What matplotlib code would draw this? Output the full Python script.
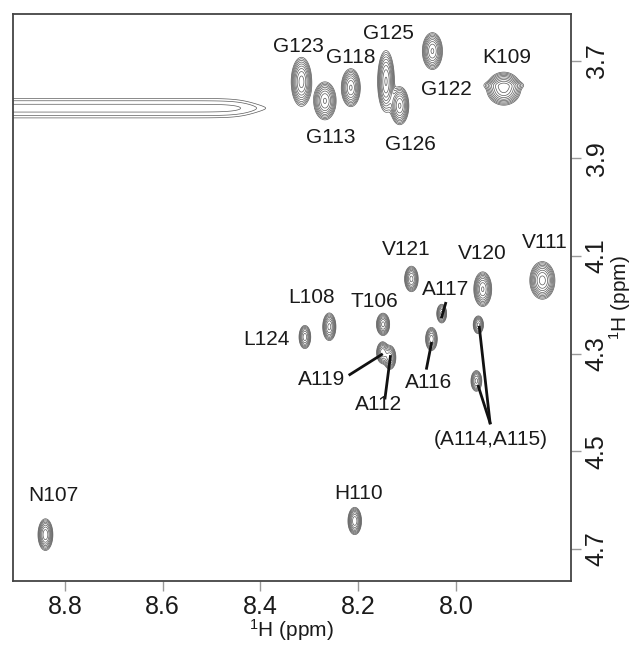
import numpy as np
import matplotlib
matplotlib.use("Agg")
import matplotlib.pyplot as plt

plt.rcParams['font.family'] = ['Liberation Sans', 'DejaVu Sans']
plt.rcParams['mathtext.fontset'] = 'custom'
plt.rcParams['mathtext.rm'] = 'Liberation Sans'

# ---- spectral data (ppm) ----
peak_names = ["T106", "N107", "L108", "K109", "K109b", "H110", "V111", "A112", "G113",
              "A114a", "A114b", "A116", "A117", "G118", "A119", "V120", "V121",
              "G122", "G123", "L124", "G125", "G126"]
peak_x = [8.149, 8.840, 8.259, 7.902, 7.902, 8.207, 7.823, 8.135, 8.268,
          7.954, 7.958, 8.050, 8.029, 8.215, 8.150, 7.945, 8.091,
          8.048, 8.316, 8.309, 8.143, 8.115]
peak_y = [4.240, 4.671, 4.245, 3.757, 3.750, 4.643, 4.150, 4.308, 3.782,
          4.241, 4.356, 4.270, 4.218, 3.755, 4.298, 4.168, 4.147,
          3.680, 3.743, 4.266, 3.742, 3.792]
# line widths (ppm, gaussian sigma)
peak_sx = [0.0062, 0.0068, 0.0062, 0.0150, 0.0240, 0.0062, 0.0110, 0.0058, 0.0100,
           0.0052, 0.0055, 0.0058, 0.0050, 0.0085, 0.0058, 0.0080, 0.0064,
           0.0090, 0.0090, 0.0058, 0.0075, 0.0082]
peak_sy = [0.0105, 0.0145, 0.0130, 0.0145, 0.0048, 0.0125, 0.0165, 0.0115, 0.0170,
           0.0090, 0.0105, 0.0115, 0.0095, 0.0170, 0.0105, 0.0155, 0.0120,
           0.0165, 0.0215, 0.0115, 0.0275, 0.0170]
peak_amp = [0.7, 0.8, 0.7, 1.0, 0.18, 0.8, 1.0, 0.6, 0.9,
            0.5, 0.5, 0.55, 0.5, 0.9, 0.6, 0.9, 0.7,
            0.9, 1.0, 0.55, 0.9, 0.9]

# water / t1-noise streak
streak_y = 3.797
streak_end_x = 8.415
streak_amp = 0.14

# labels (text, x, y in ppm)
label_text = ["G123", "G118", "G125", "G122", "K109", "G113", "G126",
              "V121", "V120", "V111", "L108", "T106", "L124", "A117",
              "A119", "A112", "A116", "(A114,A115)", "H110", "N107"]
label_x = [8.323, 8.215, 8.137, 8.019, 7.896, 8.256, 8.093,
           8.102, 7.945, 7.818, 8.295, 8.166, 8.387, 8.022,
           8.275, 8.159, 8.055, 7.929, 8.200, 8.824]
label_y = [3.671, 3.694, 3.643, 3.759, 3.694, 3.858, 3.872,
           4.087, 4.095, 4.072, 4.186, 4.193, 4.272, 4.169,
           4.354, 4.405, 4.360, 4.477, 4.586, 4.591]

# leader lines (x0, y0, x1, y1)
leaders = [(8.217, 4.343, 8.152, 4.302),
           (8.145, 4.391, 8.134, 4.306),
           (8.060, 4.330, 8.050, 4.279),
           (8.021, 4.197, 8.029, 4.225),
           (7.930, 4.442, 7.952, 4.246),
           (7.930, 4.442, 7.954, 4.367)]

x_ticks = [8.8, 8.6, 8.4, 8.2, 8.0]
y_ticks = [3.7, 3.9, 4.1, 4.3, 4.5, 4.7]
x_range = (8.907, 7.765)
y_range = (4.766, 3.604)

# ---- build spectrum ----
xs = np.linspace(7.765, 8.907, 1000)
ys = np.linspace(3.604, 4.766, 1000)
X, Y = np.meshgrid(xs, ys)
Z = np.zeros_like(X)
for px, py, sx, sy, a in zip(peak_x, peak_y, peak_sx, peak_sy, peak_amp):
    Z += a * np.exp(-0.5 * (((X - px) / sx) ** 2 + ((Y - py) / sy) ** 2))
ridge = 1.0 / (1.0 + np.exp(-(X - streak_end_x) / 0.02))
sig = 0.016 * np.sqrt(ridge) + 1e-4
Z += streak_amp * np.sqrt(ridge) * np.exp(-0.5 * ((Y - streak_y) / sig) ** 2)

levels = 0.065 * 1.38 ** np.arange(0, 9)

fig = plt.figure(figsize=(6.38, 6.48), dpi=100)
ax = fig.add_axes([0.0199, 0.1034, 0.8746, 0.875])
ax.contour(X, Y, Z, levels=levels, colors='#5a5a5a', linewidths=0.5)

for t, lx, ly in zip(label_text, label_x, label_y):
    ax.text(lx, ly, t, fontsize=15, ha='center', va='center', color='#1a1a1a')
for x0, y0, x1, y1 in leaders:
    ax.plot([x0, x1], [y0, y1], color='#111111', lw=2)

ax.set_xlim(*x_range)
ax.set_ylim(*y_range)
ax.set_xticks(x_ticks)
ax.set_xticklabels([f"{v:.1f}" for v in x_ticks])
ax.set_yticks(y_ticks)
ax.set_yticklabels([f"{v:.1f}" for v in y_ticks])
ax.yaxis.tick_right()
ax.yaxis.set_label_position('right')
ax.tick_params(axis='both', direction='out', length=7, width=1, color='#999999',
               labelsize=18, labelcolor='#1a1a1a', pad=3)
ax.tick_params(axis='y', labelrotation=90)
for lab in ax.get_yticklabels():
    lab.set_va('center')
for s in ax.spines.values():
    s.set_color('#444444')
    s.set_linewidth(1.3)
ax.set_xlabel(r'$\mathregular{^1}$H (ppm)', fontsize=15, labelpad=-1, color='#1a1a1a')
ax.set_ylabel(r'$\mathregular{^1}$H (ppm)', fontsize=15, labelpad=-1, color='#1a1a1a')

fig.savefig("out.png", dpi=100)
